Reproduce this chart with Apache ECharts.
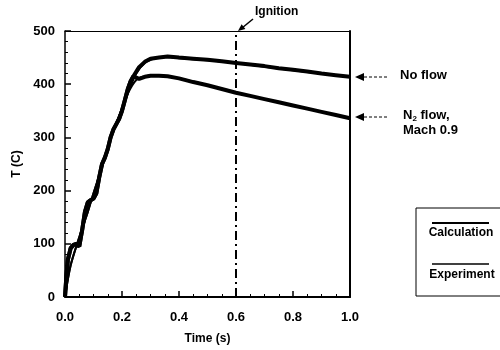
<!DOCTYPE html>
<html>
<head>
<meta charset="utf-8">
<script src="https://cdn.jsdelivr.net/npm/echarts@6/dist/echarts.min.js"></script>
<style>html,body{margin:0;padding:0;background:#fff}#c{width:500px;height:350px}</style>
</head>
<body>
<div id="c"></div>
<script>
// ---- data ----
var xTicks = [0.0, 0.2, 0.4, 0.6, 0.8, 1.0];
var yTicks = [0, 100, 200, 300, 400, 500];
var ignitionTime = 0.6;

// Experiment (shared rise, then split)
var expRiseT = [0, 0.005, 0.01, 0.02, 0.03, 0.04, 0.05, 0.055, 0.06, 0.07, 0.08, 0.09, 0.1, 0.11, 0.12, 0.13, 0.14, 0.15, 0.16, 0.17, 0.18, 0.19, 0.2, 0.21, 0.22, 0.23, 0.24];
var expRiseV = [0, 40, 70, 92, 98, 100, 95, 110, 125, 160, 178, 182, 185, 195, 225, 250, 262, 278, 300, 315, 325, 335, 350, 370, 390, 405, 415];
var expTailT = [0.26, 0.28, 0.3, 0.33, 0.36, 0.4, 0.45, 0.5, 0.55, 0.6, 0.65, 0.7, 0.75, 0.8, 0.85, 0.9, 0.95, 1.0];
var expNoFlowTail = [432, 442, 448, 450, 452, 450, 448, 446, 443, 440, 437, 434, 430, 427, 424, 420, 417, 414];
var expN2Tail     = [410, 414, 416, 416, 415, 411, 404, 398, 391, 384, 378, 372, 366, 360, 354, 348, 342, 336];

// Calculation
var calcT      = [0, 0.02, 0.05, 0.08, 0.1, 0.13, 0.16, 0.19, 0.22, 0.25, 0.28, 0.32, 0.36, 0.4, 0.5, 0.6, 0.7, 0.8, 0.9, 1.0];
var calcNoFlow = [0, 60, 112, 160, 195, 245, 298, 340, 382, 420, 440, 449, 451, 449, 445, 440, 433, 426, 420, 414];
var calcN2     = [0, 60, 112, 160, 195, 245, 298, 340, 382, 408, 415, 417, 415, 411, 398, 384, 372, 360, 348, 336];

function pairs(ts, vs) { return ts.map(function (t, i) { return [t, vs[i]]; }); }
var expNoFlow = pairs(expRiseT.concat(expTailT), expRiseV.concat(expNoFlowTail));
var expN2 = pairs(expRiseT.concat(expTailT), expRiseV.concat(expN2Tail));

var FONT = 'Liberation Sans';
var chart = echarts.init(document.getElementById('c'));

function lineSeries(name, data, width, smooth) {
  return {
    name: name, type: 'line', data: data, showSymbol: false, symbol: 'none',
    smooth: smooth, lineStyle: { color: '#000', width: width }, xAxisIndex: 0, yAxisIndex: 0,
    animation: false, z: 3
  };
}

var series = [
  lineSeries('Calculation no flow', pairs(calcT, calcNoFlow), 2, 0.3),
  lineSeries('Calculation N2', pairs(calcT, calcN2), 2, 0.3),
  lineSeries('Experiment no flow', expNoFlow, 4, false),
  lineSeries('Experiment N2', expN2, 4, false)
];
series[0].markLine = {
  silent: true, symbol: 'none', label: { show: false },
  lineStyle: { color: '#000', width: 2, type: [9, 4, 2, 4] },
  data: [{ xAxis: ignitionTime }]
};

chart.setOption({
  animation: false,
  backgroundColor: '#fff',
  grid: { left: 65, right: 150, top: 31, bottom: 53 },
  xAxis: [{
    type: 'value', min: 0, max: 1, interval: 0.2,
    name: 'Time (s)', nameLocation: 'middle', nameGap: 36,
    nameTextStyle: { fontFamily: FONT, fontWeight: 'bold', fontSize: 12, color: '#000' },
    axisLine: { lineStyle: { color: '#000', width: 2 } },
    axisTick: { inside: true, length: 6, lineStyle: { color: '#000', width: 1.5 } },
    minorTick: { show: true, splitNumber: 4, length: 3, lineStyle: { color: '#000', width: 1 } },
    splitLine: { show: false },
    axisLabel: { margin: 14, fontFamily: FONT, fontWeight: 'bold', fontSize: 13, color: '#000',
      formatter: function (v) { return v.toFixed(1); } }
  }, {
    type: 'value', position: 'top', min: 0, max: 1,
    axisLine: { show: true, onZero: false, lineStyle: { color: '#000', width: 1 } },
    axisTick: { show: false }, axisLabel: { show: false }, splitLine: { show: false }
  }],
  yAxis: [{
    type: 'value', min: 0, max: 500, interval: 100,
    name: 'T (C)', nameLocation: 'middle', nameGap: 40, nameRotate: 90,
    nameTextStyle: { fontFamily: FONT, fontWeight: 'bold', fontSize: 12, color: '#000' },
    axisLine: { show: true, lineStyle: { color: '#000', width: 1.5 } },
    axisTick: { inside: true, length: 6, lineStyle: { color: '#000', width: 1.5 } },
    minorTick: { show: true, splitNumber: 5, length: 3, lineStyle: { color: '#000', width: 1 } },
    splitLine: { show: false },
    axisLabel: { margin: 10, fontFamily: FONT, fontWeight: 'bold', fontSize: 13, color: '#000' }
  }, {
    type: 'value', position: 'right', min: 0, max: 500,
    axisLine: { show: true, onZero: false, lineStyle: { color: '#000', width: 2 } },
    axisTick: { show: false }, axisLabel: { show: false }, splitLine: { show: false }
  }],
  series: series,
  graphic: [
    // Ignition label + arrow
    { type: 'text', left: 255, top: 6, style: { text: 'Ignition', fill: '#000', font: 'bold 12px "Liberation Sans"' } },
    { type: 'line', shape: { x1: 253, y1: 19, x2: 242, y2: 28 }, style: { stroke: '#000', lineWidth: 1.5 } },
    { type: 'polygon', shape: { points: [[238, 31], [245.4, 28.9], [241.6, 24.3]] }, style: { fill: '#000' } },
    // No flow arrow
    { type: 'polygon', shape: { points: [[355, 77], [364, 73], [364, 81]] }, style: { fill: '#000' } },
    { type: 'line', shape: { x1: 364, y1: 77, x2: 388, y2: 77 }, style: { stroke: '#000', lineWidth: 1, lineDash: [3, 2] } },
    { type: 'text', left: 400, top: 69, style: { text: 'No flow', fill: '#000', font: 'bold 13px "Liberation Sans"' } },
    // N2 arrow
    { type: 'polygon', shape: { points: [[355, 117], [364, 113], [364, 121]] }, style: { fill: '#000' } },
    { type: 'line', shape: { x1: 364, y1: 117, x2: 388, y2: 117 }, style: { stroke: '#000', lineWidth: 1, lineDash: [3, 2] } },
    { type: 'text', left: 403, top: 108, style: {
        text: 'N{s|2} flow,\nMach 0.9', fill: '#000', font: 'bold 13px "Liberation Sans"', lineHeight: 15,
        rich: { s: { fontSize: 8, fontWeight: 'bold', fontFamily: FONT, verticalAlign: 'bottom', padding: [6, 0, 0, 0] } }
      } },
    // Legend box
    { type: 'rect', shape: { x: 416, y: 208, width: 100, height: 88 }, style: { fill: 'none', stroke: '#000', lineWidth: 1 } },
    { type: 'line', shape: { x1: 432, y1: 223, x2: 489, y2: 223 }, style: { stroke: '#000', lineWidth: 2 } },
    { type: 'text', x: 461, y: 233, style: { text: 'Calculation', fill: '#000', align: 'center', verticalAlign: 'middle', font: 'bold 12px "Liberation Sans"' } },
    { type: 'line', shape: { x1: 432, y1: 264, x2: 489, y2: 264 }, style: { stroke: '#000', lineWidth: 1.5 } },
    { type: 'text', x: 462, y: 275, style: { text: 'Experiment', fill: '#000', align: 'center', verticalAlign: 'middle', font: 'bold 12px "Liberation Sans"' } }
  ]
});
</script>
</body>
</html>
